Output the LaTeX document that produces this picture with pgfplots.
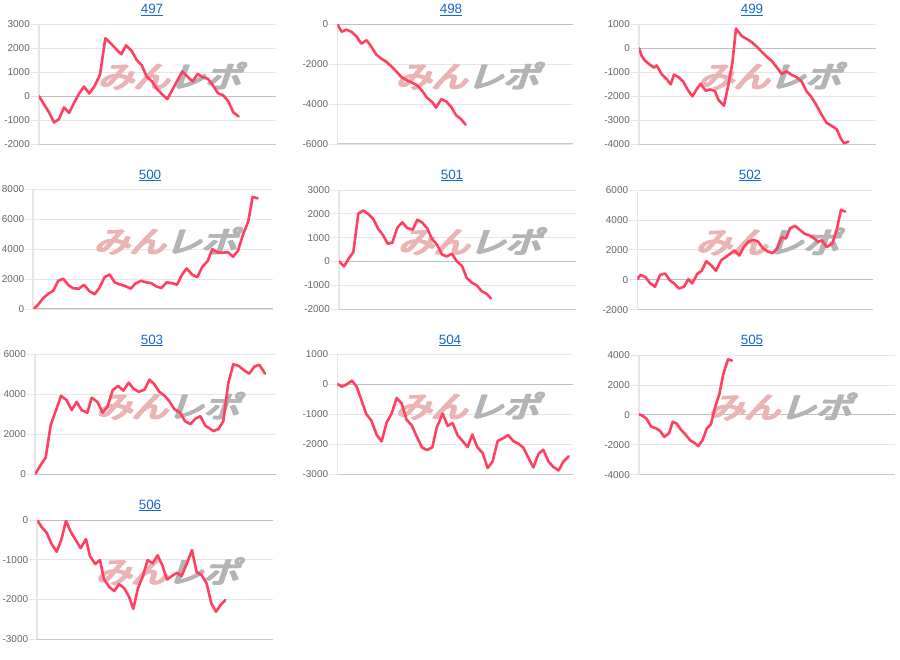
\documentclass[border=0pt]{standalone}
\usepackage{pgfplots}
\pgfplotsset{compat=1.18}
\usepackage{fontspec}
\setmainfont{Liberation Sans}
\newfontfamily\cjk[FakeSlant=0.28, FakeBold=4]{Noto Sans CJK JP}
\definecolor{linec}{RGB}{255,64,96}
\definecolor{gridc}{RGB}{230,230,230}
\definecolor{zeroc}{RGB}{190,190,190}
\definecolor{botc}{RGB}{200,200,200}
\definecolor{tickc}{RGB}{102,102,102}
\definecolor{titlec}{RGB}{25,103,210}
\definecolor{wmpink}{RGB}{234,180,180}
\definecolor{wmgray}{RGB}{180,180,180}
\pgfplotsset{
  panel/.style={
    scale only axis, anchor=north west,
    axis lines*=left,
    axis line style={gridc, line width=1.6bp},
    x axis line style={botc, line width=1bp},
    xtick=\empty,
    ymajorgrids, grid style={gridc, line width=0.8bp},
    major tick length=8bp, tick align=outside,
    ytick style={gridc, line width=0.8bp},
    yticklabel style={font=\fontsize{10}{12}\selectfont, text=tickc, inner sep=0pt, xshift=-1bp},
    scaled y ticks=false,
    /pgf/number format/1000 sep={},
    /pgf/number format/assume math mode=true,
    extra y ticks={0}, extra y tick labels={},
    extra y tick style={grid style={zeroc, line width=1bp}, tick style={zeroc, line width=1bp}},
    every axis plot post/.append style={color=linec, line width=2.6bp, line join=round, line cap=round, mark=none},
  },
}
\newcommand{\wmtext}{\textcolor{wmpink}{みん}\textcolor{wmgray}{レポ}}
\newcommand{\wm}{%
  \node[xscale=1.2, font=\cjk\fontsize{30}{32}\selectfont, xshift=-0.6bp] at (rel axis cs:0.55,0.57) {\wmtext};
  \node[xscale=1.2, font=\cjk\fontsize{30}{32}\selectfont, xshift=0.6bp] at (rel axis cs:0.55,0.57) {\wmtext};
}
\begin{document}
\begin{tikzpicture}
\useasboundingbox (0,0) rectangle (900bp,-660bp);
\tikzset{ttl/.style={anchor=base, text=titlec, font=\fontsize{13.5}{15}\selectfont}}
\node[ttl] at (152bp,-13.3bp) {\underline{497}};
\node[ttl] at (451bp,-13.3bp) {\underline{498}};
\node[ttl] at (752bp,-13.3bp) {\underline{499}};
\node[ttl] at (150bp,-179bp) {\underline{500}};
\node[ttl] at (452bp,-179bp) {\underline{501}};
\node[ttl] at (750bp,-179bp) {\underline{502}};
\node[ttl] at (152bp,-344bp) {\underline{503}};
\node[ttl] at (450bp,-344bp) {\underline{504}};
\node[ttl] at (752bp,-344bp) {\underline{505}};
\node[ttl] at (150bp,-509bp) {\underline{506}};

% 497
\begin{axis}[panel, at={(39bp,-24.3bp)}, width=237bp, height=119.7bp,
  xmin=117, xmax=828, ymin=-2000, ymax=3000, ytick={-2000,-1000,0,1000,2000,3000}]
\wm
\addplot coordinates {(117,0)(133,-360)(148,-700)(162,-1100)(177,-960)(192,-470)(207,-700)(222,-290)(237,100)(252,400)(268,110)(283,400)(300,900)(316,2420)(332,2200)(348,1970)(364,1750)(378,2120)(395,1890)(410,1510)(425,1290)(440,820)(456,610)(471,300)(486,80)(502,-120)(517,260)(532,650)(547,1030)(562,820)(578,610)(593,930)(608,790)(624,720)(639,440)(654,120)(670,30)(685,-220)(700,-680)(716,-850)};
\end{axis}

% 498
\begin{axis}[panel, at={(337.3bp,-24.3bp)}, width=236bp, height=119.7bp,
  xmin=112, xmax=820, ymin=-6000, ymax=0, ytick={-6000,-4000,-2000,0}]
\wm
\addplot coordinates {(112,0)(125,-370)(140,-270)(155,-380)(170,-620)(184,-970)(200,-800)(214,-1120)(229,-1520)(244,-1720)(259,-1880)(275,-2120)(290,-2380)(305,-2650)(320,-2800)(336,-2920)(351,-3050)(366,-3320)(381,-3680)(397,-3900)(408,-4180)(424,-3750)(439,-3870)(454,-4150)(468,-4550)(483,-4750)(497,-5030)};
\end{axis}

% 499
\begin{axis}[panel, at={(639bp,-24.3bp)}, width=237bp, height=119.7bp,
  xmin=117, xmax=828, ymin=-4000, ymax=1000, ytick={-4000,-3000,-2000,-1000,0,1000}]
\wm
\addplot coordinates {(117,0)(125,-320)(133,-490)(148,-670)(162,-810)(170,-720)(185,-1080)(200,-1290)(212,-1510)(222,-1100)(237,-1220)(250,-1400)(262,-1710)(277,-2010)(292,-1670)(302,-1490)(317,-1780)(330,-1720)(345,-1790)(355,-2150)(372,-2400)(384,-1600)(397,-620)(408,820)(425,510)(440,390)(455,260)(470,70)(485,-150)(500,-350)(515,-530)(530,-790)(545,-1070)(560,-970)(575,-1110)(590,-1210)(605,-1390)(620,-1810)(633,-2010)(650,-2400)(665,-2780)(680,-3120)(695,-3240)(710,-3380)(722,-3760)(732,-3970)(745,-3900)};
\end{axis}

% 500
\begin{axis}[panel, at={(33.3bp,-189.3bp)}, width=240bp, height=119.7bp,
  xmin=100, xmax=820, ymin=0, ymax=8000, ytick={0,2000,4000,6000,8000}]
\wm
\addplot coordinates {(103,40)(115,310)(130,730)(145,1020)(160,1220)(175,1890)(190,2020)(205,1600)(220,1380)(237,1360)(252,1620)(268,1200)(284,980)(298,1400)(314,2130)(329,2310)(344,1780)(360,1640)(376,1530)(392,1360)(406,1690)(423,1890)(438,1780)(454,1730)(469,1510)(484,1400)(500,1780)(516,1730)(531,1620)(546,2290)(560,2710)(577,2290)(592,2130)(607,2820)(623,3200)(637,4000)(653,3780)(669,3760)(684,3800)(699,3490)(714,3890)(729,4960)(745,5870)(758,7490)(773,7400)};
\end{axis}

% 501
\begin{axis}[panel, at={(339bp,-190bp)}, width=237bp, height=119bp,
  xmin=117, xmax=828, ymin=-2000, ymax=3000, ytick={-2000,-1000,0,1000,2000,3000}]
\wm
\addplot coordinates {(117,0)(132,-210)(147,140)(160,390)(175,2010)(190,2140)(205,1990)(220,1780)(235,1360)(250,1080)(263,740)(277,790)(292,1420)(307,1640)(322,1400)(338,1330)(352,1750)(366,1640)(382,1380)(396,940)(411,710)(426,290)(440,210)(456,320)(470,10)(486,-190)(500,-690)(515,-890)(530,-1000)(545,-1250)(560,-1360)(573,-1560)};
\end{axis}

% 502
\begin{axis}[panel, at={(637.3bp,-190bp)}, width=236bp, height=119.7bp,
  xmin=112, xmax=820, ymin=-2000, ymax=6000, ytick={-2000,0,2000,4000,6000}]
\wm
\addplot coordinates {(112,40)(122,330)(137,160)(150,-220)(165,-470)(180,310)(195,420)(210,-40)(222,-240)(237,-580)(252,-470)(265,40)(277,-240)(292,400)(305,600)(319,1240)(334,960)(348,600)(363,1290)(378,1530)(393,1780)(404,1960)(418,1620)(432,2200)(446,2560)(460,2670)(474,2560)(488,2130)(503,1890)(518,1780)(532,2110)(545,2840)(558,2760)(570,3440)(585,3600)(600,3330)(614,3070)(628,2980)(643,2760)(655,2530)(666,2640)(680,2180)(697,2420)(710,3330)(723,4670)(736,4560)};
\end{axis}

% 503
\begin{axis}[panel, at={(35bp,-354.3bp)}, width=241bp, height=119.7bp,
  xmin=105, xmax=828, ymin=0, ymax=6000, ytick={0,2000,4000,6000}]
\wm
\addplot coordinates {(107,30)(122,450)(137,820)(152,2450)(167,3150)(183,3920)(200,3700)(215,3200)(230,3620)(245,3200)(262,3070)(275,3820)(292,3620)(308,3080)(322,3350)(338,4200)(354,4420)(370,4180)(386,4580)(400,4280)(416,4120)(434,4230)(448,4730)(462,4520)(478,4120)(494,3920)(508,3650)(523,3250)(540,3080)(555,2650)(571,2500)(586,2770)(601,2900)(616,2420)(632,2250)(640,2150)(655,2250)(670,2650)(685,4570)(700,5500)(716,5420)(732,5200)(748,5030)(763,5380)(778,5480)(795,5030)};
\end{axis}

% 504
\begin{axis}[panel, at={(337.3bp,-354.3bp)}, width=236bp, height=119.7bp,
  xmin=112, xmax=820, ymin=-3000, ymax=1000, ytick={-3000,-2000,-1000,0,1000}]
\wm
\addplot coordinates {(112,10)(126,-80)(141,0)(156,120)(170,-80)(184,-520)(199,-1000)(214,-1210)(230,-1690)(245,-1910)(260,-1280)(275,-980)(290,-460)(305,-640)(320,-1190)(335,-1370)(350,-1740)(366,-2110)(381,-2200)(397,-2110)(410,-1460)(428,-980)(443,-1390)(458,-1300)(473,-1710)(488,-1900)(503,-2100)(517,-1680)(532,-2100)(548,-2300)(563,-2800)(578,-2580)(593,-1900)(610,-1800)(625,-1700)(640,-1900)(656,-1990)(670,-2120)(686,-2470)(700,-2780)(716,-2320)(730,-2190)(746,-2590)(761,-2770)(776,-2880)(790,-2590)(806,-2410)};
\end{axis}

% 505
\begin{axis}[panel, at={(639bp,-355bp)}, width=256bp, height=119.7bp,
  xmin=117, xmax=885, ymin=-4000, ymax=4000, ytick={-4000,-2000,0,2000,4000}]
\wm
\addplot coordinates {(117,40)(130,-90)(140,-270)(153,-780)(167,-890)(180,-1070)(193,-1470)(207,-1240)(218,-470)(230,-580)(243,-1000)(257,-1330)(270,-1690)(283,-1870)(295,-2090)(308,-1670)(320,-930)(333,-620)(345,490)(358,1380)(370,2730)(384,3710)(396,3620)};
\end{axis}

% 506
\begin{axis}[panel, at={(37.3bp,-520bp)}, width=236bp, height=119bp,
  xmin=112, xmax=820, ymin=-3000, ymax=0, ytick={-3000,-2000,-1000,0}]
\wm
\addplot coordinates {(112,0)(125,-180)(140,-320)(154,-590)(170,-800)(184,-500)(198,-20)(213,-310)(227,-500)(242,-710)(258,-480)(270,-910)(286,-1110)(300,-1010)(312,-1490)(328,-1690)(343,-1790)(357,-1620)(372,-1710)(387,-1930)(400,-2240)(414,-1720)(428,-1430)(443,-1010)(458,-1090)(473,-890)(487,-1140)(501,-1500)(516,-1410)(531,-1330)(545,-1410)(560,-1110)(576,-760)(590,-1310)(605,-1390)(620,-1600)(634,-2100)(648,-2310)(662,-2140)(676,-2020)};
\end{axis}
\end{tikzpicture}
\end{document}
